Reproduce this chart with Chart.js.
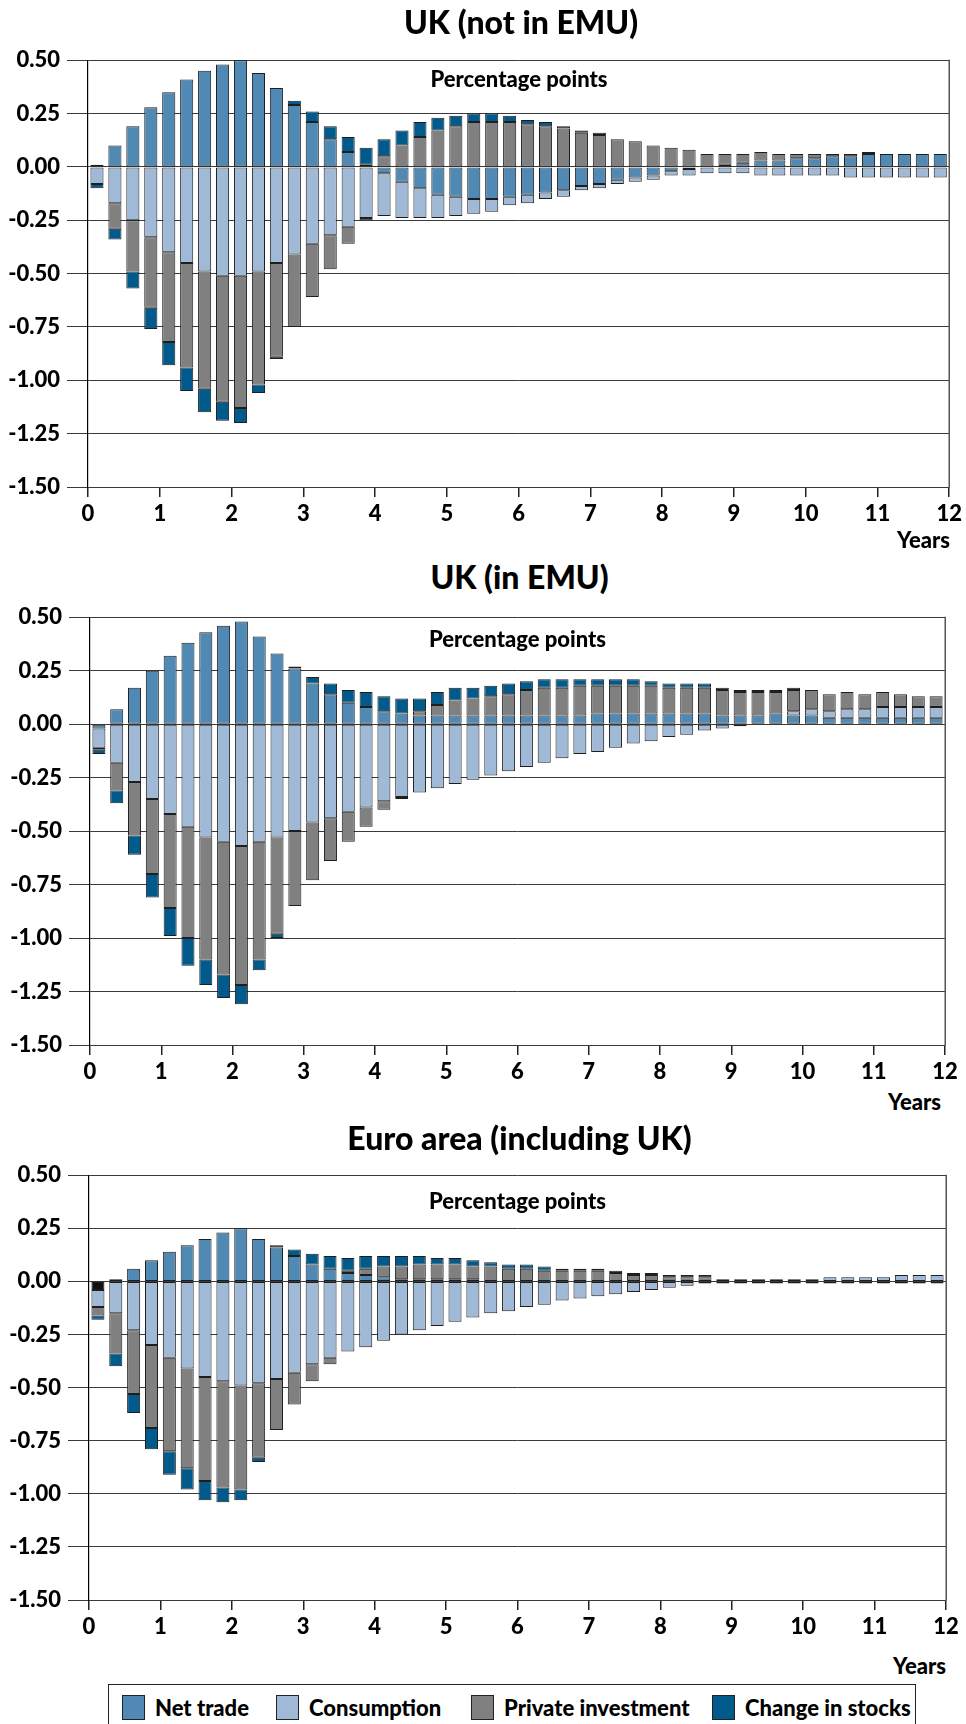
<!DOCTYPE html>
<html>
<head>
<meta charset="utf-8">
<script src="https://cdn.jsdelivr.net/npm/chart.js@4.4.1/dist/chart.umd.min.js"></script>
<style>
  html, body { margin: 0; padding: 0; background: #fff; }
  body { width: 966px; height: 1724px; position: relative; overflow: hidden;
         font-family: Lato, "DejaVu Sans", sans-serif; font-weight: 900; color: #000; }
  canvas { position: absolute; left: 0; }
  .txt { position: absolute; line-height: 1.2; white-space: nowrap; }
  .title { font-size: 32px; transform: translateX(-50%); }
  .pp { font-size: 22px; transform: translateX(-50%); }
  .yrs { font-size: 22px; transform: translateX(-100%); }
  #legend { position: absolute; left: 108px; top: 1684px; width: 808px; height: 48px;
            border: 1.5px solid #222; box-sizing: border-box; }
  .lg-item { position: absolute; top: 9px; height: 27px; display: flex; align-items: center; font-size: 22px; }
  .lg-sw { width: 23px; height: 25px; box-sizing: border-box; border: 1.5px solid #222; margin-right: 10px; }
</style>
</head>
<body>
<div id="legend"></div>
<script>
// ---------------- DATA ----------------
const yearTicks = [0, 1, 2, 3, 4, 5, 6, 7, 8, 9, 10, 11, 12];
const valueTicks = [0.5, 0.25, 0, -0.25, -0.5, -0.75, -1, -1.25, -1.5];
const quarters = Array.from({ length: 48 }, (_, i) => 'Y' + (Math.floor(i / 4) + 1) + 'Q' + (i % 4 + 1));
const seriesNames = ['Net trade', 'Consumption', 'Private investment', 'Change in stocks'];
const panelTitles = ['UK (not in EMU)', 'UK (in EMU)', 'Euro area (including UK)'];

// UK (not in EMU)
const ukOutNetTrade = [0.01, 0.10, 0.19, 0.28, 0.35, 0.41, 0.45, 0.48, 0.50, 0.44, 0.37, 0.29, 0.21, 0.13, 0.07, 0.01,
  -0.03, -0.07, -0.10, -0.13, -0.14, -0.15, -0.15, -0.14, -0.13, -0.12, -0.11, -0.09, -0.08, -0.06, -0.05, -0.04,
  -0.02, -0.01, 0.00, 0.01, 0.02, 0.03, 0.03, 0.04, 0.04, 0.05, 0.05, 0.06, 0.06, 0.06, 0.06, 0.06];
const ukOutConsumption = [-0.08, -0.17, -0.25, -0.33, -0.40, -0.45, -0.49, -0.51, -0.51, -0.49, -0.45, -0.41, -0.36, -0.32, -0.28, -0.24,
  -0.20, -0.17, -0.14, -0.11, -0.09, -0.07, -0.06, -0.04, -0.04, -0.03, -0.03, -0.02, -0.02, -0.02, -0.02, -0.02,
  -0.02, -0.03, -0.03, -0.03, -0.03, -0.04, -0.04, -0.04, -0.04, -0.04, -0.05, -0.05, -0.05, -0.05, -0.05, -0.05];
const ukOutInvestment = [0.00, -0.12, -0.24, -0.33, -0.42, -0.49, -0.55, -0.59, -0.62, -0.53, -0.44, -0.34, -0.25, -0.16, -0.08, -0.01,
  0.05, 0.10, 0.14, 0.17, 0.19, 0.21, 0.21, 0.21, 0.20, 0.19, 0.18, 0.16, 0.15, 0.13, 0.12, 0.10,
  0.09, 0.08, 0.06, 0.05, 0.04, 0.04, 0.03, 0.02, 0.02, 0.01, 0.01, 0.01, 0.00, 0.00, 0.00, 0.00];
const ukOutStocks = [-0.02, -0.05, -0.08, -0.10, -0.11, -0.11, -0.11, -0.09, -0.07, -0.04, -0.01, 0.02, 0.05, 0.06, 0.07, 0.08,
  0.08, 0.07, 0.07, 0.06, 0.05, 0.04, 0.04, 0.03, 0.02, 0.02, 0.01, 0.01, 0.01, 0.00, 0.00, 0.00,
  0.00, 0.00, 0.00, 0.00, 0.00, 0.00, 0.00, 0.00, 0.00, 0.00, 0.00, 0.00, 0.00, 0.00, 0.00, 0.00];

// UK (in EMU)
const ukInNetTrade = [-0.02, 0.07, 0.17, 0.25, 0.32, 0.38, 0.43, 0.46, 0.48, 0.41, 0.33, 0.26, 0.19, 0.14, 0.10, 0.08,
  0.06, 0.05, 0.04, 0.04, 0.04, 0.04, 0.04, 0.04, 0.04, 0.04, 0.04, 0.04, 0.05, 0.05, 0.05, 0.05,
  0.05, 0.05, 0.05, 0.04, 0.04, 0.04, 0.05, 0.04, 0.04, 0.03, 0.03, 0.03, 0.03, 0.03, 0.03, 0.03];
const ukInConsumption = [-0.09, -0.18, -0.27, -0.35, -0.42, -0.48, -0.53, -0.55, -0.57, -0.55, -0.53, -0.50, -0.46, -0.44, -0.41, -0.39,
  -0.36, -0.34, -0.32, -0.30, -0.28, -0.26, -0.24, -0.22, -0.20, -0.18, -0.16, -0.14, -0.13, -0.11, -0.09, -0.08,
  -0.06, -0.05, -0.03, -0.02, -0.01, 0.00, 0.00, 0.02, 0.03, 0.03, 0.04, 0.04, 0.05, 0.05, 0.05, 0.05];
const ukInInvestment = [-0.01, -0.13, -0.25, -0.35, -0.44, -0.52, -0.57, -0.62, -0.65, -0.55, -0.45, -0.35, -0.27, -0.20, -0.14, -0.09,
  -0.04, -0.01, 0.02, 0.05, 0.07, 0.08, 0.09, 0.10, 0.12, 0.13, 0.13, 0.14, 0.13, 0.13, 0.13, 0.13,
  0.12, 0.12, 0.12, 0.12, 0.11, 0.11, 0.10, 0.10, 0.09, 0.08, 0.08, 0.07, 0.07, 0.06, 0.05, 0.05];
const ukInStocks = [-0.02, -0.06, -0.09, -0.11, -0.13, -0.13, -0.12, -0.11, -0.09, -0.05, -0.02, 0.01, 0.03, 0.05, 0.06, 0.07,
  0.07, 0.07, 0.06, 0.06, 0.06, 0.05, 0.05, 0.05, 0.04, 0.04, 0.04, 0.03, 0.03, 0.03, 0.03, 0.02,
  0.02, 0.02, 0.02, 0.01, 0.01, 0.01, 0.01, 0.01, 0.00, 0.00, 0.00, 0.00, 0.00, 0.00, 0.00, 0.00];

// Euro area (including UK)
const euroNetTrade = [-0.04, 0.01, 0.06, 0.10, 0.14, 0.17, 0.20, 0.23, 0.25, 0.20, 0.16, 0.12, 0.08, 0.06, 0.04, 0.03,
  0.02, 0.01, 0.01, 0.01, 0.01, 0.01, 0.00, 0.00, 0.00, 0.00, 0.00, 0.00, 0.00, 0.00, 0.00, 0.00,
  0.00, 0.00, 0.00, -0.01, -0.01, -0.01, -0.01, -0.01, -0.01, -0.01, -0.01, -0.01, -0.01, -0.01, -0.01, -0.01];
const euroConsumption = [-0.08, -0.15, -0.23, -0.30, -0.36, -0.41, -0.45, -0.47, -0.49, -0.48, -0.46, -0.43, -0.39, -0.36, -0.33, -0.31,
  -0.28, -0.25, -0.23, -0.21, -0.19, -0.17, -0.15, -0.14, -0.12, -0.11, -0.09, -0.08, -0.07, -0.06, -0.05, -0.04,
  -0.03, -0.02, -0.01, 0.00, 0.00, 0.00, 0.00, 0.00, 0.00, 0.02, 0.02, 0.02, 0.02, 0.03, 0.03, 0.03];
const euroInvestment = [-0.04, -0.19, -0.30, -0.39, -0.44, -0.47, -0.49, -0.50, -0.49, -0.35, -0.24, -0.15, -0.08, -0.03, 0.01, 0.03,
  0.05, 0.06, 0.07, 0.07, 0.07, 0.06, 0.07, 0.06, 0.06, 0.05, 0.05, 0.05, 0.05, 0.04, 0.03, 0.03,
  0.02, 0.02, 0.02, 0.01, 0.01, 0.01, 0.01, 0.01, 0.01, 0.00, 0.00, 0.00, 0.00, 0.00, 0.00, 0.00];
const euroStocks = [-0.02, -0.06, -0.09, -0.10, -0.11, -0.10, -0.09, -0.07, -0.05, -0.02, 0.01, 0.03, 0.05, 0.06, 0.06, 0.06,
  0.05, 0.05, 0.04, 0.03, 0.03, 0.03, 0.02, 0.02, 0.02, 0.02, 0.01, 0.01, 0.01, 0.01, 0.01, 0.01,
  0.01, 0.01, 0.01, 0.00, 0.00, 0.00, 0.00, 0.00, 0.00, 0.00, 0.00, 0.00, 0.00, 0.00, 0.00, 0.00];

// ---------------- STYLE / LAYOUT ----------------
const seriesColors = ['#5089b4', '#a0b9d6', '#808080', '#005b8c'];
const borderCol = '#1e1e1e';
const gridCol = '#3a3a3a';
const FONT = 'Lato, "DejaVu Sans", sans-serif';
const FONT_WEIGHT = 900;

const panels = [
  { series: [ukOutNetTrade, ukOutConsumption, ukOutInvestment, ukOutStocks],
    canvasTop: 40, plotLeft: 88, plotRight: 950, plotTop: 56, plotBottom: 487,
    titleTop: 3, ppTop: 66, yearsTop: 527, yearsRight: 950 },
  { series: [ukInNetTrade, ukInConsumption, ukInInvestment, ukInStocks],
    canvasTop: 597, plotLeft: 90, plotRight: 945, plotTop: 613, plotBottom: 1045,
    titleTop: 558, ppTop: 626, yearsTop: 1089, yearsRight: 941 },
  { series: [euroNetTrade, euroConsumption, euroInvestment, euroStocks],
    canvasTop: 1155, plotLeft: 89, plotRight: 946, plotTop: 1171, plotBottom: 1600,
    titleTop: 1119, ppTop: 1188, yearsTop: 1653, yearsRight: 946, firstNetTradeColor: '#111111' }
];

const X_AXIS_H = 40;

const framePlugin = {
  id: 'frame',
  afterDraw(chart) {
    const { ctx, chartArea: a } = chart;
    ctx.save();
    ctx.strokeStyle = '#555';
    ctx.lineWidth = 1.5;
    ctx.beginPath();
    const x = Math.round(a.right) + 0.25;
    ctx.moveTo(x, a.top - 0.5);
    ctx.lineTo(x, a.bottom + 0.5);
    ctx.stroke();
    ctx.restore();
  }
};

function addText(cls, text, left, top) {
  const d = document.createElement('div');
  d.className = 'txt ' + cls;
  d.textContent = text;
  d.style.left = left + 'px';
  d.style.top = top + 'px';
  document.body.appendChild(d);
}

panels.forEach((p, pi) => {
  const canvas = document.createElement('canvas');
  const H = (p.plotBottom - p.canvasTop) + X_AXIS_H;
  canvas.width = 966; canvas.height = H;
  canvas.style.width = '966px'; canvas.style.height = H + 'px';
  canvas.style.top = p.canvasTop + 'px';
  document.body.appendChild(canvas);

  const datasets = p.series.map((vals, si) => ({
    label: seriesNames[si],
    data: vals,
    backgroundColor: (si === 0 && p.firstNetTradeColor)
      ? (c) => (c.dataIndex === 0 ? p.firstNetTradeColor : seriesColors[0])
      : seriesColors[si],
    borderColor: borderCol,
    borderWidth: 1,
    borderSkipped: false,
    barPercentage: 0.73,
    categoryPercentage: 1.0
  }));

  new Chart(canvas, {
    type: 'bar',
    data: { labels: quarters, datasets },
    options: {
      responsive: false,
      animation: false,
      devicePixelRatio: 1,
      layout: { padding: { top: p.plotTop - p.canvasTop, right: 966 - p.plotRight, left: 0, bottom: 0 } },
      plugins: { legend: { display: false }, tooltip: { enabled: false }, title: { display: false } },
      scales: {
        x: { type: 'category', display: false, stacked: true, offset: true },
        years: {
          type: 'linear', position: 'bottom', min: 0, max: 12, offset: false,
          afterBuildTicks: (s) => { s.ticks = yearTicks.map(v => ({ value: v })); },
          afterFit: (s) => { s.height = X_AXIS_H; },
          ticks: { autoSkip: false, maxRotation: 0, minRotation: 0, padding: 4, color: '#000',
                   font: { family: FONT, size: 22, weight: FONT_WEIGHT },
                   callback: (v) => String(v) },
          grid: { offset: false, drawOnChartArea: false, drawTicks: true, tickLength: 10, color: '#222', lineWidth: 1.5 },
          border: { display: false }
        },
        y: {
          type: 'linear', stacked: true, min: -1.5, max: 0.5,
          afterBuildTicks: (s) => { s.ticks = valueTicks.map(v => ({ value: v })); },
          afterFit: (s) => { s.width = p.plotLeft; },
          ticks: { padding: 7, color: '#000', font: { family: FONT, size: 22, weight: FONT_WEIGHT },
                   callback: (v) => v.toFixed(2) },
          grid: { color: gridCol, lineWidth: 1, tickLength: 21, drawTicks: true },
          border: { display: true, color: '#000', width: 1.2 }
        }
      }
    },
    plugins: [framePlugin]
  });

  const cx = (p.plotLeft + p.plotRight) / 2;
  addText('title', panelTitles[pi], cx + 2, p.titleTop);
  addText('pp', 'Percentage points', cx, p.ppTop);
  addText('yrs', 'Years', p.yearsRight, p.yearsTop);
});

// legend
const legendLefts = [13, 167, 362, 603];
const legend = document.getElementById('legend');
seriesNames.forEach((name, i) => {
  const item = document.createElement('div');
  item.className = 'lg-item';
  item.style.left = legendLefts[i] + 'px';
  const sw = document.createElement('div');
  sw.className = 'lg-sw';
  sw.style.background = seriesColors[i];
  const tx = document.createElement('span');
  tx.textContent = name;
  item.appendChild(sw); item.appendChild(tx);
  legend.appendChild(item);
});
</script>
</body>
</html>
